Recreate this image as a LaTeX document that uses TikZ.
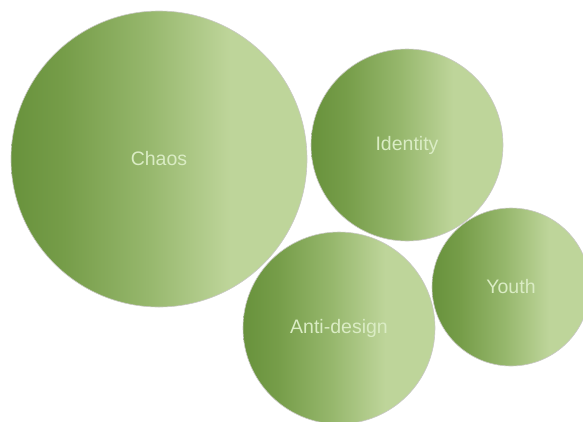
\documentclass[tikz,border=0pt]{standalone}
\usepackage{fontspec}
\setmainfont{Liberation Sans}
\definecolor{gdark}{RGB}{104,146,60}
\definecolor{gdarkb}{RGB}{118,157,73}
\definecolor{gmid}{RGB}{150,183,108}
\definecolor{glight}{RGB}{190,213,154}
\definecolor{gtext}{RGB}{218,236,196}
\definecolor{gedge}{RGB}{200,200,195}
\pgfdeclarehorizontalshading{greenh}{100bp}{color(0bp)=(gdark); color(25bp)=(gdark); color(34bp)=(gdarkb); color(48bp)=(gmid); color(62bp)=(glight); color(100bp)=(glight)}
\tikzset{
  bubble/.style={circle, shading=greenh, draw=gedge, line width=0.6pt, text=gtext,
    font=\fontsize{19.5}{22}\selectfont, inner sep=0pt}
}
\begin{document}
\begin{tikzpicture}[x=1pt,y=-1pt]
\useasboundingbox (0,0) rectangle (583,421);
\clip (0,0) rectangle (583,421);
\node[bubble, minimum size=296pt] (chaos) at (159,159) {Chaos};
\node[bubble, minimum size=192pt] (identity) at (407,145) {Identity};
\node[bubble, minimum size=192pt] (anti) at (339,328) {Anti-design};
\node[bubble, minimum size=158pt] (youth) at (511,287) {Youth};
\end{tikzpicture}
\end{document}
